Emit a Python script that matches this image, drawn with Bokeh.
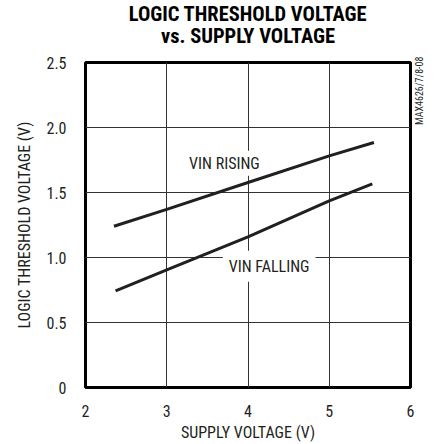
import math
from bokeh.plotting import figure
from bokeh.models import Range1d, FixedTicker, Label, Title, LinearAxis
from bokeh.embed import file_html
from bokeh.resources import INLINE

# ---- data ----
supply_rising = [2.35, 3.0, 4.0, 5.0, 5.55]
vin_rising = [1.24, 1.37, 1.577, 1.782, 1.885]
supply_falling = [2.37, 3.0, 4.0, 5.0, 5.53]
vin_falling = [0.744, 0.905, 1.159, 1.436, 1.567]

x_ticks = [2, 3, 4, 5, 6]
y_ticks = [0, 0.5, 1.0, 1.5, 2.0, 2.5]
y_tick_labels = ["0", "0.5", "1.0", "1.5", "2.0", "2.5"]

title_line1 = "LOGIC THRESHOLD VOLTAGE"
title_line2 = "vs. SUPPLY VOLTAGE"
x_label = "SUPPLY VOLTAGE (V)"
y_label = "LOGIC THRESHOLD VOLTAGE (V)"
label_rising = "VIN RISING"
label_falling = "VIN FALLING"
part_code = "MAX4626/7/8-08"
part_code_at = 2.02

FONT = "Roboto Condensed, Roboto"
INK = "#231f20"

p = figure(output_backend="svg", toolbar_location=None,
           x_range=Range1d(2, 6), y_range=Range1d(0, 2.5),
           frame_width=325, frame_height=325,
           min_border_left=85, min_border_right=24, min_border_top=62, min_border_bottom=57,
           title=None)
p.background_fill_color = "white"
p.border_fill_color = "white"
p.outline_line_color = "black"
p.outline_line_width = 3

# grid
for g in (p.xgrid, p.ygrid):
    g.grid_line_color = "#333333"
    g.grid_line_width = 1
p.xgrid.ticker = FixedTicker(ticks=x_ticks)
p.ygrid.ticker = FixedTicker(ticks=y_ticks)

# right-side axis used only to carry the part code, reading upwards
right_ax = LinearAxis(ticker=FixedTicker(ticks=[part_code_at]),
                      major_label_overrides={part_code_at: part_code})
p.add_layout(right_ax, "right")

# axes
p.xaxis.ticker = FixedTicker(ticks=x_ticks)
p.yaxis[0].ticker = FixedTicker(ticks=y_ticks)
p.yaxis[0].major_label_overrides = {t: s for t, s in zip(y_ticks, y_tick_labels)}
for ax in (p.xaxis[0], p.yaxis[0], right_ax):
    ax.axis_line_color = None
    ax.major_tick_line_color = None
    ax.minor_tick_line_color = None
    ax.major_tick_in = 0
    ax.major_tick_out = 0
    ax.minor_tick_in = 0
    ax.minor_tick_out = 0
    ax.major_label_text_font = FONT
    ax.major_label_text_font_size = "16px"
    ax.major_label_text_color = INK
    ax.axis_label_text_font = FONT
    ax.axis_label_text_font_size = "16px"
    ax.axis_label_text_font_style = "normal"
    ax.axis_label_text_color = INK
right_ax.major_label_text_font_size = "10px"
right_ax.major_label_orientation = math.pi / 2
right_ax.major_label_standoff = 9

p.xaxis[0].axis_label = x_label
p.yaxis[0].axis_label = y_label
p.xaxis[0].major_label_standoff = 17
p.xaxis[0].axis_label_standoff = 3
p.yaxis[0].major_label_standoff = 19
p.yaxis[0].axis_label_standoff = 9

# series
p.line(supply_rising, vin_rising, line_color=INK, line_width=3)
p.line(supply_falling, vin_falling, line_color=INK, line_width=3)

# in-plot labels
p.add_layout(Label(x=3.71, y=1.725, text=label_rising, text_font=FONT, text_font_size="16px",
                   text_color=INK, text_align="center", text_baseline="middle",
                   background_fill_color="white", padding=3))
p.add_layout(Label(x=4.26, y=0.932, text=label_falling, text_font=FONT, text_font_size="16px",
                   text_color=INK, text_align="center", text_baseline="middle",
                   background_fill_color="white", padding=6))

# two-line title
p.add_layout(Title(text=title_line2, text_font=FONT, text_font_size="20.5px",
                   text_font_style="bold", text_color="black", align="center",
                   standoff=30), "above")
p.add_layout(Title(text=title_line1, text_font=FONT, text_font_size="20.5px",
                   text_font_style="bold", text_color="black", align="center",
                   standoff=-39), "above")

open("out.html", "w").write(file_html(p, INLINE))
